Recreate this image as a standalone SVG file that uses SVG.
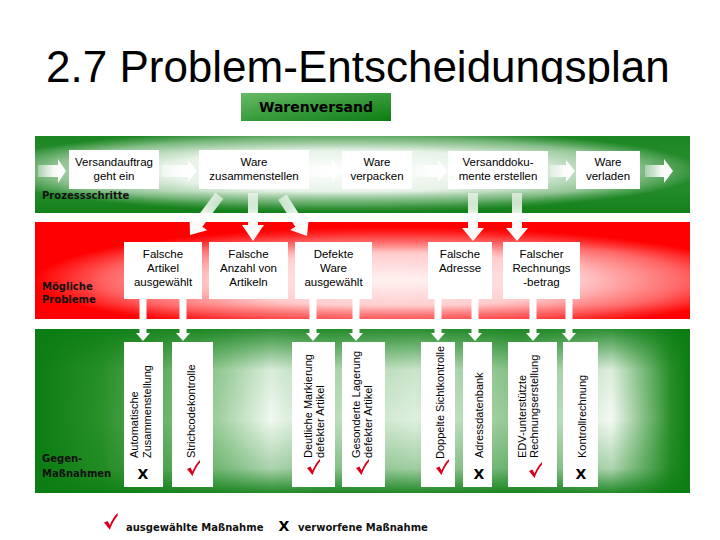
<svg xmlns="http://www.w3.org/2000/svg" width="720" height="540" viewBox="0 0 720 540">
<style>
.box{fill:#ffffff}
.t{font-family:"Liberation Sans",Arial,sans-serif;font-size:11.5px;fill:#000;text-anchor:middle}
.v{font-family:"Liberation Sans",Arial,sans-serif;font-size:11px;fill:#000}
.lbl{font-family:"DejaVu Sans",Verdana,sans-serif;font-size:10px;font-weight:bold;fill:#111}
.xm{font-family:"DejaVu Sans",Verdana,sans-serif;font-size:14px;font-weight:bold;fill:#000;text-anchor:middle}
.arr{fill:url(#fadeR)}
.dn{fill:url(#fadeD)}
.wb{fill:#ffffff}
.chk{fill:#d8001c}
</style>
<defs>
<clipPath id="titleClip"><rect x="0" y="0" width="720" height="84"/></clipPath>
<linearGradient id="gHead" x1="0" y1="0" x2="1" y2="1">
<stop offset="0" stop-color="#66bb66"/><stop offset="1" stop-color="#0c7c12"/>
</linearGradient>
<radialGradient id="gTopR" cx="0.47" cy="0.45" r="0.55">
<stop offset="0" stop-color="#ffffff" stop-opacity="1"/><stop offset="0.5" stop-color="#ffffff" stop-opacity="0.9"/>
<stop offset="0.8" stop-color="#ffffff" stop-opacity="0.55"/><stop offset="1" stop-color="#ffffff" stop-opacity="0.1"/>
</radialGradient>
<linearGradient id="gTopV" x1="0" y1="0" x2="0" y2="1">
<stop offset="0" stop-color="#0b7d12" stop-opacity="0.3"/><stop offset="0.2" stop-color="#0b7d12" stop-opacity="0"/>
<stop offset="0.72" stop-color="#0b7d12" stop-opacity="0"/><stop offset="1" stop-color="#0b7d12" stop-opacity="0.7"/>
</linearGradient>
<radialGradient id="gRedR" cx="0.55" cy="0.6" r="0.55">
<stop offset="0" stop-color="#ffffff" stop-opacity="0.95"/><stop offset="0.5" stop-color="#ffffff" stop-opacity="0.8"/>
<stop offset="0.8" stop-color="#ffffff" stop-opacity="0.4"/><stop offset="1" stop-color="#ffffff" stop-opacity="0"/>
</radialGradient>
<linearGradient id="gRedV" x1="0" y1="0" x2="0" y2="1">
<stop offset="0" stop-color="#ff0000" stop-opacity="0.6"/><stop offset="0.3" stop-color="#ff0000" stop-opacity="0"/>
<stop offset="0.85" stop-color="#ff0000" stop-opacity="0"/><stop offset="1" stop-color="#ff0000" stop-opacity="0.3"/>
</linearGradient>
<linearGradient id="gBotH" x1="0" y1="0" x2="1" y2="0">
<stop offset="0" stop-color="#0b7d12"/><stop offset="0.1" stop-color="#2a902a"/>
<stop offset="0.28" stop-color="#a0d0a0"/><stop offset="0.36" stop-color="#f0f8f0"/>
<stop offset="0.45" stop-color="#b8dcb8"/><stop offset="0.58" stop-color="#dff0df"/>
<stop offset="0.74" stop-color="#8cc48c"/><stop offset="0.88" stop-color="#f4faf4"/>
<stop offset="0.97" stop-color="#2a8f2a"/><stop offset="1" stop-color="#0b7d12"/>
</linearGradient>
<linearGradient id="gBotV" x1="0" y1="0" x2="0" y2="1">
<stop offset="0" stop-color="#0b7d12" stop-opacity="0.85"/><stop offset="0.25" stop-color="#0b7d12" stop-opacity="0.1"/>
<stop offset="0.55" stop-color="#0b7d12" stop-opacity="0"/><stop offset="0.85" stop-color="#0b7d12" stop-opacity="0.3"/>
<stop offset="1" stop-color="#0b7d12" stop-opacity="0.9"/>
</linearGradient>
<linearGradient id="fadeR" x1="0" y1="0" x2="1" y2="0">
<stop offset="0" stop-color="#ffffff" stop-opacity="0.35"/><stop offset="0.6" stop-color="#ffffff" stop-opacity="0.95"/><stop offset="1" stop-color="#ffffff"/>
</linearGradient>
<linearGradient id="fadeD" x1="0" y1="0" x2="0" y2="1">
<stop offset="0" stop-color="#ffffff" stop-opacity="0.6"/><stop offset="0.5" stop-color="#ffffff" stop-opacity="0.95"/><stop offset="1" stop-color="#ffffff"/>
</linearGradient>
<path id="check" d="M0,9 L3.5,7.5 L5.5,11.5 C7.5,7 9.5,3 13,0 L13,2.5 C10,6 7.5,10.5 5.5,16 Z"/>
</defs>

<rect x="0" y="0" width="720" height="540" fill="#ffffff"/>

<text x="46" y="82" clip-path="url(#titleClip)" font-family="'Liberation Sans',Arial,sans-serif" font-size="44" fill="#000">2.7 Problem-Entscheidungsplan</text>

<g id="header">
<rect x="241" y="93" width="150" height="28" fill="url(#gHead)"/>
<text x="316" y="112" font-family="'DejaVu Sans',Verdana,sans-serif" font-size="14" font-weight="bold" fill="#000" text-anchor="middle">Warenversand</text>
</g>

<g id="bands">
<rect x="35" y="136" width="655" height="77" fill="#0b7d12"/>
<rect x="35" y="136" width="655" height="77" fill="url(#gTopR)"/>
<rect x="35" y="136" width="655" height="77" fill="url(#gTopV)"/>
<rect x="35" y="222" width="655" height="97" fill="#ff0000"/>
<rect x="35" y="222" width="655" height="97" fill="url(#gRedR)"/>
<rect x="35" y="222" width="655" height="97" fill="url(#gRedV)"/>
<rect x="35" y="329" width="655" height="164" fill="url(#gBotH)"/>
<rect x="35" y="329" width="655" height="164" fill="url(#gBotV)"/>
<text class="lbl" x="42" y="199">Prozessschritte</text>
<text class="lbl" x="42" y="290">Mögliche</text>
<text class="lbl" x="42" y="303">Probleme</text>
<text class="lbl" x="42" y="462">Gegen-</text>
<text class="lbl" x="42" y="477">Maßnahmen</text>
</g>

<g id="connectors">
<polygon class="arr" points="38,165 58,165 58,159 66,171 58,183 58,177 38,177"/>
<polygon class="arr" points="162,165 188,165 188,160 197,171 188,182 188,177 162,177"/>
<polygon class="arr" points="312,165 332,165 332,160 341,171 332,182 332,177 312,177"/>
<polygon class="arr" points="416,165 438,165 438,160 447,171 438,182 438,177 416,177"/>
<polygon class="arr" points="550,165 566,165 566,160 575,171 566,182 566,177 550,177"/>
<polygon class="arr" points="645,165 664,165 664,159 673,171 664,183 664,177 645,177"/>

<polygon class="dn" points="248,193 258,193 258,225 264,225 253,241 242,225 248,225"/>
<polygon class="dn" transform="translate(190,235) rotate(36.7)" points="-5,-49 5,-49 5,-14 11,-14 0,0 -11,-14 -5,-14"/>
<polygon class="dn" transform="translate(307,236) rotate(-32.3)" points="-5,-46 5,-46 5,-14 11,-14 0,0 -11,-14 -5,-14"/>
<polygon class="dn" points="468,193 478,193 478,228 484,228 473,241 462,228 468,228"/>
<polygon class="dn" points="512,193 522,193 522,228 528,228 517,241 506,228 512,228"/>

<polygon class="wb" points="139.5,299 146.5,299 146.5,333 150,333 143,341 136,333 139.5,333"/>
<polygon class="wb" points="179.5,299 186.5,299 186.5,333 190,333 183,341 176,333 179.5,333"/>
<polygon class="wb" points="309.5,299 316.5,299 316.5,333 320,333 313,341 306,333 309.5,333"/>
<polygon class="wb" points="352.5,299 359.5,299 359.5,333 363,333 356,341 349,333 352.5,333"/>
<polygon class="wb" points="434.5,299 441.5,299 441.5,333 445,333 438,341 431,333 434.5,333"/>
<polygon class="wb" points="471.5,299 478.5,299 478.5,333 482,333 475,341 468,333 471.5,333"/>
<polygon class="wb" points="529.5,299 536.5,299 536.5,333 540,333 533,341 526,333 529.5,333"/>
<polygon class="wb" points="565.5,299 572.5,299 572.5,333 576,333 569,341 562,333 565.5,333"/>
</g>

<g id="p1"><rect class="box" x="69" y="150" width="90" height="39"/><text class="t" x="114" y="166">Versandauftrag</text><text class="t" x="114" y="180">geht ein</text></g>
<g id="p2"><rect class="box" x="199" y="150" width="110" height="39"/><text class="t" x="254" y="166">Ware</text><text class="t" x="254" y="180">zusammenstellen</text></g>
<g id="p3"><rect class="box" x="342" y="151" width="70" height="38"/><text class="t" x="377" y="166">Ware</text><text class="t" x="377" y="180">verpacken</text></g>
<g id="p4"><rect class="box" x="448" y="151" width="100" height="38"/><text class="t" x="498" y="166">Versanddoku-</text><text class="t" x="498" y="180">mente erstellen</text></g>
<g id="p5"><rect class="box" x="576" y="151" width="64" height="38"/><text class="t" x="608" y="166">Ware</text><text class="t" x="608" y="180">verladen</text></g>

<g id="r1"><rect class="box" x="124" y="242" width="78" height="57"/><text class="t" x="163" y="258">Falsche</text><text class="t" x="163" y="272">Artikel</text><text class="t" x="163" y="286">ausgewählt</text></g>
<g id="r2"><rect class="box" x="209" y="242" width="79" height="57"/><text class="t" x="248.5" y="258">Falsche</text><text class="t" x="248.5" y="272">Anzahl von</text><text class="t" x="248.5" y="286">Artikeln</text></g>
<g id="r3"><rect class="box" x="295" y="242" width="77" height="57"/><text class="t" x="333.5" y="258">Defekte</text><text class="t" x="333.5" y="272">Ware</text><text class="t" x="333.5" y="286">ausgewählt</text></g>
<g id="r4"><rect class="box" x="428" y="242" width="64" height="57"/><text class="t" x="460" y="258">Falsche</text><text class="t" x="460" y="272">Adresse</text></g>
<g id="r5"><rect class="box" x="503" y="242" width="77" height="57"/><text class="t" x="541.5" y="258">Falscher</text><text class="t" x="541.5" y="272">Rechnungs</text><text class="t" x="541.5" y="286">-betrag</text></g>

<g id="m1"><rect class="box" x="124" y="342" width="39" height="145"/>
<text class="v" transform="translate(138,458) rotate(-90)">Automatische</text>
<text class="v" transform="translate(151,458) rotate(-90)">Zusammenstellung</text>
<text class="xm" x="143" y="479">X</text></g>
<g id="m2"><rect class="box" x="172" y="342" width="41" height="145"/>
<text class="v" transform="translate(195,458) rotate(-90)">Strichcodekontrolle</text>
<use href="#check" class="chk" x="187" y="460"/></g>
<g id="m3"><rect class="box" x="292" y="342" width="43" height="145"/>
<text class="v" transform="translate(312,458) rotate(-90)">Deutliche Markierung</text>
<text class="v" transform="translate(324,458) rotate(-90)">defekter Artikel</text>
<use href="#check" class="chk" x="307" y="459"/></g>
<g id="m4"><rect class="box" x="342" y="342" width="43" height="145"/>
<text class="v" transform="translate(360,458) rotate(-90)">Gesonderte Lagerung</text>
<text class="v" transform="translate(372,458) rotate(-90)">defekter Artikel</text>
<use href="#check" class="chk" x="356" y="459"/></g>
<g id="m5"><rect class="box" x="421" y="342" width="34" height="145"/>
<text class="v" transform="translate(444,459) rotate(-90)" font-size="10.6">Doppelte Sichtkontrolle</text>
<use href="#check" class="chk" x="436" y="459"/></g>
<g id="m6"><rect class="box" x="463" y="342" width="29" height="145"/>
<text class="v" transform="translate(483,458) rotate(-90)">Adressdatenbank</text>
<text class="xm" x="479" y="479">X</text></g>
<g id="m7"><rect class="box" x="508" y="342" width="49" height="145"/>
<text class="v" transform="translate(526,458) rotate(-90)">EDV-unterstützte</text>
<text class="v" transform="translate(538,458) rotate(-90)">Rechnungserstellung</text>
<use href="#check" class="chk" x="529" y="462"/></g>
<g id="m8"><rect class="box" x="563" y="342" width="35" height="145"/>
<text class="v" transform="translate(586,458) rotate(-90)">Kontrollrechnung</text>
<text class="xm" x="581" y="479">X</text></g>

<g id="legend">
<use href="#check" class="chk" transform="translate(104,513) scale(1.05)"/>
<text class="lbl" x="126" y="531">ausgewählte Maßnahme</text>
<text class="xm" x="284" y="531" font-size="17">X</text>
<text class="lbl" x="298" y="531">verworfene Maßnahme</text>
</g>
</svg>
